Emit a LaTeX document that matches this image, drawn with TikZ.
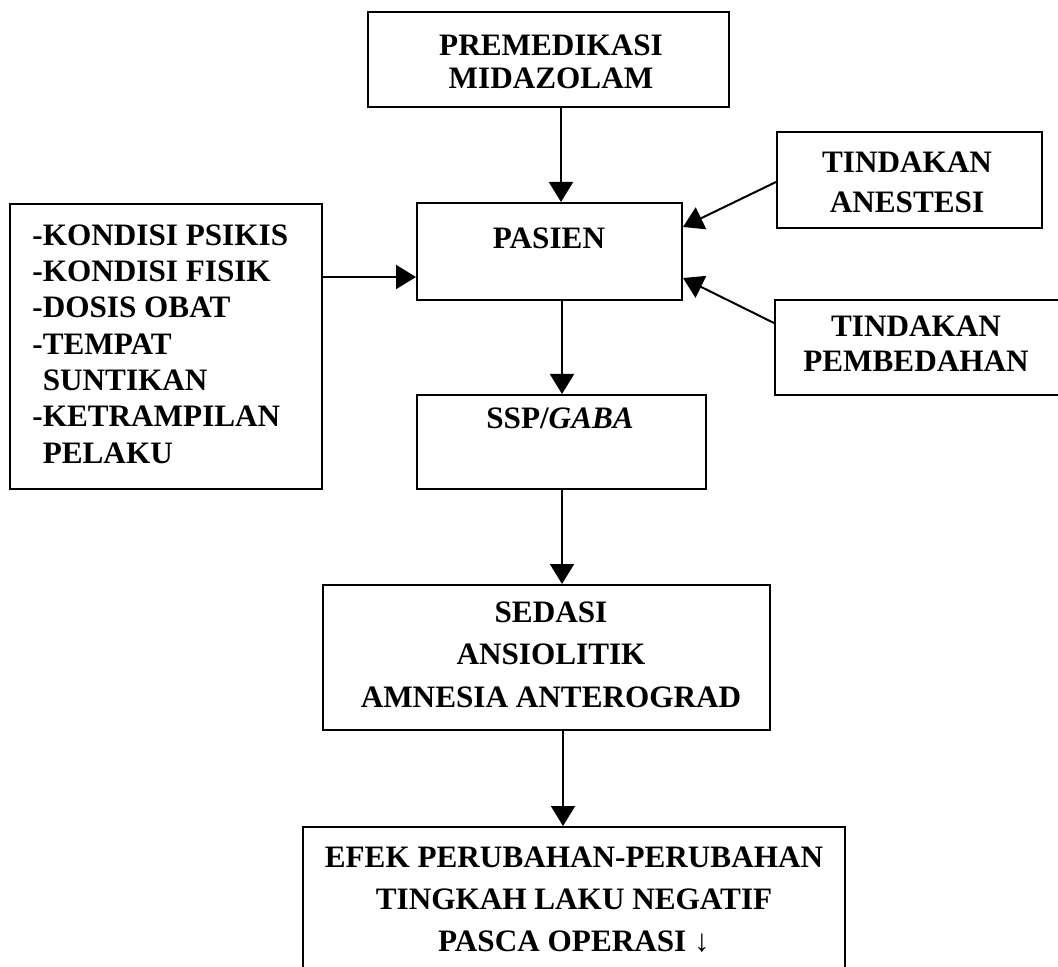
\documentclass[tikz,border=0pt]{standalone}
\usepackage{fontspec}
\setmainfont{Liberation Serif}
\usetikzlibrary{arrows.meta,fit}
\begin{document}
\begin{tikzpicture}[x=0.5pt,y=-0.5pt,
  box/.style={draw,line width=1pt,inner sep=0pt,rectangle},
  lbl/.style={inner sep=0pt,align=center},
  arr/.style={line width=1pt,-{Triangle[length=10pt,width=12pt]}}]
\useasboundingbox (0,0) rectangle (1058,967);
% boxes
\node[box,fit={(368,12)(729,107)}] (premed) {};
\node[box,fit={(417,203)(682,300)}] (pasien) {};
\node[box,fit={(10,204)(322,489)}] (faktor) {};
\node[box,fit={(777,132)(1042,228)}] (anestesi) {};
\node[box,fit={(775,300)(1062,395)}] (bedah) {};
\node[box,fit={(417,395)(706,489)}] (ssp) {};
\node[box,fit={(323,585)(770,730)}] (sedasi) {};
\node[box,fit={(303,827)(845,990)}] (efek) {};
% texts
\node[lbl,font=\bfseries\fontsize{15.6}{16.5}\selectfont] (premedT) at (551,61.5) {PREMEDIKASI\\MIDAZOLAM};
\node[lbl,font=\bfseries\fontsize{15.6}{18}\selectfont] (pasienT) at (549,238) {PASIEN};
\node[lbl,font=\bfseries\fontsize{15.6}{18}\selectfont] (sspT) at (560,418) {SSP/\textit{GABA}};
\node[lbl,align=left,anchor=west,font=\bfseries\fontsize{15.6}{18.15}\selectfont] (faktorT) at (32,344)
  {-KONDISI PSIKIS\\-KONDISI FISIK\\-DOSIS OBAT\\-TEMPAT\\\phantom{-}SUNTIKAN\\-KETRAMPILAN\\\phantom{-}PELAKU};
\node[lbl,font=\bfseries\fontsize{15.6}{20}\selectfont] (anestesiT) at (907,182) {TINDAKAN\\ANESTESI};
\node[lbl,font=\bfseries\fontsize{15.6}{17.5}\selectfont] (bedahT) at (916,344) {TINDAKAN\\PEMBEDAHAN};
\node[lbl,font=\bfseries\fontsize{15.6}{21.2}\selectfont] (sedasiT) at (551,654.5) {SEDASI\\ANSIOLITIK\\AMNESIA ANTEROGRAD};
\node[lbl,font=\bfseries\fontsize{15.6}{21}\selectfont] (efekT) at (574,900) {EFEK PERUBAHAN-PERUBAHAN\\TINGKAH LAKU NEGATIF\\PASCA OPERASI {\mdseries\symbol{"2193}}};
% connector guides
\coordinate (cA) at (561,0);
\coordinate (cB) at (0,277);
\coordinate (cC) at (562,0);
\coordinate (cD) at (563,0);
\coordinate (yA1) at (0,182);
\coordinate (yA2) at (0,227);
\coordinate (yB1) at (0,323);
\coordinate (yB2) at (0,278);
% connectors
\draw[arr] (premed.south -| cA) -- (pasien.north -| cA);
\draw[arr] (faktor.east |- cB) -- (pasien.west |- cB);
\draw[arr] (anestesi.west |- yA1) -- (pasien.east |- yA2);
\draw[arr] (bedah.west |- yB1) -- (pasien.east |- yB2);
\draw[arr] (pasien.south -| cC) -- (ssp.north -| cC);
\draw[arr] (ssp.south -| cC) -- (sedasi.north -| cC);
\draw[arr] (sedasi.south -| cD) -- (efek.north -| cD);
\end{tikzpicture}
\end{document}
